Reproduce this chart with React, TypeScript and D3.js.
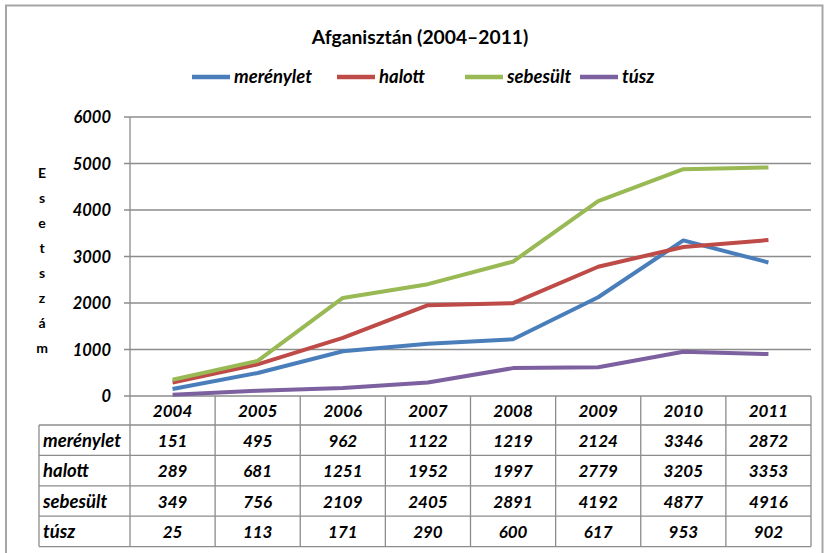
import React from "react";
import * as d3 from "d3";

const years = ["2004", "2005", "2006", "2007", "2008", "2009", "2010", "2011"];
const merenylet = [151, 495, 962, 1122, 1219, 2124, 3346, 2872];
const halott = [289, 681, 1251, 1952, 1997, 2779, 3205, 3353];
const sebesult = [349, 756, 2109, 2405, 2891, 4192, 4877, 4916];
const tusz = [25, 113, 171, 290, 600, 617, 953, 902];
const seriesNames = ["merénylet", "halott", "sebesült", "túsz"];
const seriesColors = ["#4A7EBB", "#BE4B48", "#98B954", "#7D60A0"];
const yTicks = [0, 1000, 2000, 3000, 4000, 5000, 6000];
const title = "Afganisztán (2004–2011)";
const yLabel = "Esetszám";

const FONT = "Lato, 'Open Sans', sans-serif";

export default function App() {
  const W = 824, H = 553;
  const left = 130, right = 811, top = 117, bottom = 396;
  const series = [merenylet, halott, sebesult, tusz];

  const xBand = d3.scaleBand<string>().domain(years).range([left, right]).padding(0);
  const y = d3.scaleLinear().domain([0, 6000]).range([bottom, top]);
  const line = d3.line<number>()
    .x((_, i) => (xBand(years[i]) as number) + xBand.bandwidth() / 2)
    .y((d) => y(d));

  const tableLeft = 39;
  const headerBottom = 425;
  const rowH = 30.4;
  const tableBottom = headerBottom + rowH * 4;
  const gridColor = "#8c8c8c";
  const numSize = 17;
  const wordSize = 18.5;

  const legendItems = [
    { x: 192, w: 38 },
    { x: 337, w: 38 },
    { x: 465, w: 38 },
    { x: 580, w: 38 },
  ];

  return (
    <svg width={W} height={H} style={{ position: "absolute", left: 0, top: 0 }}>
      <rect x={0} y={0} width={W} height={H} fill="#fff" />
      <rect x={6} y={5.5} width={816.5} height={560} fill="#fff" stroke="#a6a6a6" strokeWidth={2} />
      <text x={420} y={44} textAnchor="middle" fontFamily={FONT} fontWeight="bold" fontSize={19.3} fill="#000">{title}</text>
      {seriesNames.map((n, i) => (
        <g key={n}>
          <line x1={legendItems[i].x} x2={legendItems[i].x + legendItems[i].w} y1={77} y2={77} stroke={seriesColors[i]} strokeWidth={4.5} />
          <text x={legendItems[i].x + legendItems[i].w + 4} y={83} fontFamily={FONT} fontWeight="bold" fontStyle="italic" fontSize={wordSize}>{n}</text>
        </g>
      ))}
      {yTicks.map((t) => (
        <g key={t}>
          <line x1={left - 6} x2={right} y1={y(t)} y2={y(t)} stroke={gridColor} strokeWidth={1.3} />
          <text x={111} y={y(t) + 6} textAnchor="end" fontFamily={FONT} fontWeight="bold" fontStyle="italic" fontSize={16.5}>{t}</text>
        </g>
      ))}
      <line x1={left} x2={left} y1={top} y2={tableBottom} stroke={gridColor} strokeWidth={1.3} />
      {yLabel.split("").map((c, i) => (
        <text key={i} x={42} y={178 + i * 25} textAnchor="middle" fontFamily={FONT} fontWeight="bold" fontSize={14}>{c}</text>
      ))}
      {series.map((s, i) => (
        <path key={i} d={line(s) || ""} fill="none" stroke={seriesColors[i]} strokeWidth={4} strokeLinejoin="round" />
      ))}
      {years.map((yr) => {
        const x0 = xBand(yr) as number;
        return (
          <g key={yr}>
            <line x1={x0 + xBand.bandwidth()} x2={x0 + xBand.bandwidth()} y1={bottom} y2={tableBottom} stroke={gridColor} strokeWidth={1.3} />
            <text x={x0 + xBand.bandwidth() / 2} y={bottom + 21} textAnchor="middle" fontFamily={FONT} fontWeight="bold" fontStyle="italic" fontSize={numSize}>{yr}</text>
          </g>
        );
      })}
      <line x1={tableLeft} x2={tableLeft} y1={headerBottom} y2={tableBottom} stroke={gridColor} strokeWidth={1.3} />
      {[0, 1, 2, 3, 4].map((r) => (
        <line key={r} x1={tableLeft} x2={right} y1={headerBottom + r * rowH} y2={headerBottom + r * rowH} stroke={gridColor} strokeWidth={1.3} />
      ))}
      {series.map((s, r) => (
        <g key={r}>
          <text x={tableLeft + 4} y={headerBottom + r * rowH + 22} fontFamily={FONT} fontWeight="bold" fontStyle="italic" fontSize={wordSize}>{seriesNames[r]}</text>
          {s.map((v, i) => (
            <text key={i} x={(xBand(years[i]) as number) + xBand.bandwidth() / 2} y={headerBottom + r * rowH + 22} textAnchor="middle" fontFamily={FONT} fontWeight="bold" fontStyle="italic" fontSize={numSize}>{v}</text>
          ))}
        </g>
      ))}
    </svg>
  );
}
